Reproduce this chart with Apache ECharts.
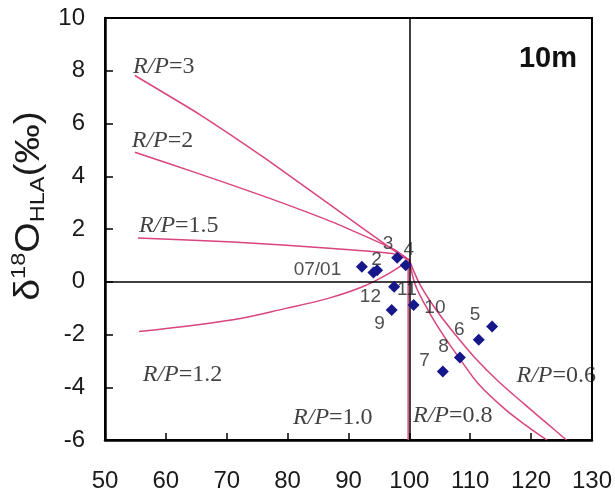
<!DOCTYPE html>
<html><head><meta charset="utf-8">
<script src="https://cdn.jsdelivr.net/npm/echarts@6/dist/echarts.min.js"></script>
<style>html,body{margin:0;padding:0;background:#fff}#c{width:615px;height:493px}</style>
</head><body><div id="c"></div>
<script>
// axis ticks
const xTicks = [50, 60, 70, 80, 90, 100, 110, 120, 130];
const yTicks = [-6, -4, -2, 0, 2, 4, 6, 8, 10];

// monthly observations (diamonds)
const obsX = [92.2, 94.1, 94.7, 98.0, 99.4, 97.5, 100.7, 97.1, 113.6, 111.4, 108.3, 105.5];
const obsY = [0.57, 0.35, 0.44, 0.91, 0.63, -0.19, -0.88, -1.07, -1.70, -2.20, -2.87, -3.40];

// month labels
const monthText = ['07/01', '2', '3', '4', '12', '11', '10', '9', '5', '6', '8', '7'];
const monthLabelX = [84.9, 94.6, 96.5, 99.9, 93.6, 99.6, 104.2, 95.1, 110.8, 108.2, 105.6, 102.5];
const monthLabelY = [0.45, 0.85, 1.45, 1.23, -0.57, -0.32, -0.98, -1.61, -1.26, -1.83, -2.45, -3.0];

// model curves (R/P ratios)
const rp3X = [54.9, 65.5, 76.5, 87.4, 98.6, 100];
const rp3Y = [7.82, 6.35, 4.65, 2.85, 1.0, 0.82];
const rp2X = [54.9, 65.5, 76.5, 87.4, 97.2, 100];
const rp2Y = [4.91, 4.09, 3.21, 2.26, 1.26, 0.82];
const rp15X = [55.4, 71.0, 87.4, 97.2, 100];
const rp15Y = [1.66, 1.51, 1.26, 1.07, 0.82];
const rp12X = [55.6, 71.3, 79.7, 86.8, 92.3, 96.6, 100];
const rp12Y = [-1.89, -1.43, -1.01, -0.62, -0.19, 0.31, 0.82];
const rp10X = [99.8, 99.8];
const rp10Y = [0.82, -6.0];
const rp08X = [100, 101.0, 103.2, 105.9, 108.4, 111.4, 115.7, 119.6, 122.6];
const rp08Y = [0.82, -0.13, -1.13, -2.14, -2.96, -3.89, -4.83, -5.52, -6.0];
const rp06X = [100, 101.8, 104.6, 107.6, 110.8, 114.6, 119.0, 122.8, 125.8];
const rp06Y = [0.82, -0.13, -1.13, -2.02, -2.89, -3.77, -4.66, -5.41, -6.0];

// curve labels (left anchor)
const rpText = ['3', '2', '1.5', '1.2', '1.0', '0.8', '0.6'];
const rpLabelX = [54.6, 54.4, 55.6, 56.2, 80.9, 100.6, 117.6];
const rpLabelY = [8.16, 5.34, 2.12, -3.54, -5.16, -5.09, -3.57];

const zip = (a, b) => a.map((v, i) => [v, b[i]]);
const pink = '#d8457f';
const curves = [[rp3X, rp3Y], [rp2X, rp2Y], [rp15X, rp15Y], [rp12X, rp12Y], [rp10X, rp10Y], [rp08X, rp08Y], [rp06X, rp06Y]];
const smoothing = [0.15, 0.15, 0.2, 0.35, false, 0.35, 0.35];

const series = [];
series.push({
  type: 'line', data: [], silent: true,
  markLine: {
    symbol: ['none', 'none'], silent: true, label: { show: false },
    lineStyle: { color: '#000', width: 1.5, type: 'solid' },
    emphasis: { disabled: true },
    data: [{ xAxis: 100 }, { yAxis: 0 }]
  }
});
curves.forEach(([xs, ys], i) => {
  series.push({
    type: 'line', data: zip(xs, ys), showSymbol: false, symbol: 'none',
    smooth: smoothing[i], silent: true,
    lineStyle: { color: pink, width: 1.5 }
  });
});
series.push({
  type: 'scatter', data: zip(obsX, obsY), symbol: 'diamond', symbolSize: 12,
  itemStyle: { color: '#15178a', opacity: 1 }, silent: true, z: 5
});
series.push({
  type: 'scatter', data: zip(monthLabelX, monthLabelY), symbolSize: 0, silent: true, z: 6,
  label: {
    show: true, position: 'inside', color: '#222', fontSize: 19, fontFamily: 'Liberation Sans',
    formatter: p => monthText[p.dataIndex]
  }
});
series.push({
  type: 'scatter', data: zip(rpLabelX, rpLabelY), symbolSize: 0, silent: true, z: 6,
  label: {
    show: true, position: 'right', distance: 0, color: '#111',
    formatter: p => '{i|R/P}{n|=' + rpText[p.dataIndex] + '}',
    rich: {
      i: { fontStyle: 'italic', fontFamily: 'Liberation Serif', fontSize: 24, color: '#111' },
      n: { fontFamily: 'Liberation Serif', fontSize: 24, color: '#111' }
    }
  }
});

const chart = echarts.init(document.getElementById('c'), null, { renderer: 'canvas' });
chart.setOption({
  animation: false,
  backgroundColor: '#fff',
  grid: { left: 105, right: 23, top: 18, bottom: 52, show: true, borderColor: '#000', borderWidth: 2 },
  xAxis: {
    type: 'value', min: xTicks[0], max: xTicks[xTicks.length - 1], interval: xTicks[1] - xTicks[0],
    axisLine: { show: true, onZero: false, lineStyle: { color: '#000', width: 2.5 } },
    axisTick: { show: true, inside: true, length: 7, lineStyle: { color: '#000', width: 1.5 } },
    axisLabel: { fontSize: 24, color: '#1a1a1a', fontFamily: 'Liberation Sans', margin: 29 },
    splitLine: { show: false }
  },
  yAxis: {
    type: 'value', min: yTicks[0], max: yTicks[yTicks.length - 1], interval: yTicks[1] - yTicks[0],
    axisLine: { show: true, onZero: false, lineStyle: { color: '#000', width: 2.5 } },
    axisTick: { show: true, inside: true, length: 8, lineStyle: { color: '#000', width: 1.5 } },
    axisLabel: { fontSize: 24, color: '#1a1a1a', fontFamily: 'Liberation Sans', margin: 20 },
    splitLine: { show: false }
  },
  graphic: [
    {
      type: 'text', x: 29, y: 206, rotation: Math.PI / 2, scaleX: 1.12,
      style: {
        text: '{a|δ}{s|18}{a|O}{b|HLA}{a|(‰)}',
        align: 'center', verticalAlign: 'middle', textAlign: 'center', textVerticalAlign: 'middle',
        fill: '#1a1a1a',
        rich: {
          a: { fontSize: 35, fontFamily: 'Liberation Sans', fill: '#1a1a1a', lineHeight: 40 },
          s: { fontSize: 21, fontFamily: 'Liberation Sans', fill: '#1a1a1a', verticalAlign: 'top', lineHeight: 22 },
          b: { fontSize: 21, fontFamily: 'Liberation Sans', fill: '#1a1a1a', verticalAlign: 'bottom', lineHeight: 22 }
        }
      }
    },
    {
      type: 'text', x: 548, y: 59,
      style: { text: '10m', font: 'bold 29px "Liberation Sans"', fill: '#111', align: 'center', verticalAlign: 'middle', textAlign: 'center', textVerticalAlign: 'middle' }
    }
  ],
  series: series
});
</script>
</body></html>
